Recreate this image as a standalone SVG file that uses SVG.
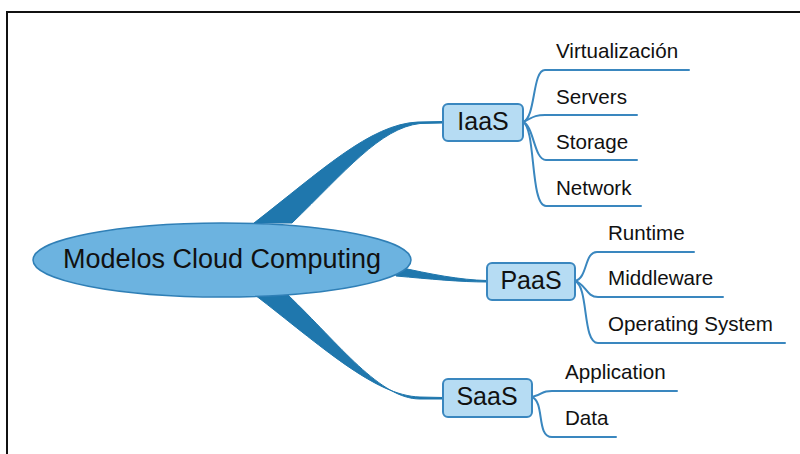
<svg xmlns="http://www.w3.org/2000/svg" width="800" height="454" viewBox="0 0 800 454">
<style>
.frame{fill:none;stroke:#111;stroke-width:2}
.branch{fill:#1f77ad;stroke:#1f77ad;stroke-width:1}
.sub{fill:none;stroke:#3a87bf;stroke-width:2;stroke-linecap:round}
.box{fill:#b6dcf3;stroke:#3a87bf;stroke-width:2}
.root{fill:#6cb3e0;stroke:#2f7fb6;stroke-width:1.5}
text{font-family:"Liberation Sans",Arial,sans-serif;fill:#111}
.t1{font-size:25px;text-anchor:middle}
.t2{font-size:20.6px}
.t0{font-size:27px;text-anchor:middle}
</style>
<rect x="0" y="0" width="800" height="454" fill="#fff"/>
<path class="frame" d="M7 454 V12 H800"/>
<g id="connectors">
<path class="branch" d="M254 223 C320 172 370 124 418 122 L443 121.5 L443 123 L420 123.5 C380 128 345 172 292 223 Z"/>
<path class="branch" d="M255 295 C320 345 375 396 420 397 L443 397.5 L443 399 L420 399 C380 399 340 345 288 295 Z"/>
<path class="branch" d="M398 267 C430 274 460 280 487 280.5 L487 282 C460 282 430 279 396 276 Z"/>
<path class="sub" d="M523 122 C536 118 532 70 545 70 L689 70"/>
<path class="sub" d="M523 122 C532 118 534 115 545 115 L637 115"/>
<path class="sub" d="M523 122 C534 126 534 160 546 160 L637 160"/>
<path class="sub" d="M523 122 C536 128 530 206 546 206 L641 206"/>
<path class="sub" d="M575 281 C588 278 584 252 597 252 L694 252"/>
<path class="sub" d="M575 281 C586 284 586 297 598 297 L723 297"/>
<path class="sub" d="M575 281 C589 287 582 343 598 343 L785 343"/>
<path class="sub" d="M532 397 C545 394 540 391 552 391 L677 391"/>
<path class="sub" d="M532 397 C545 402 536 437 552 437 L616 437"/>
</g>
<g id="root">
<ellipse class="root" cx="222" cy="260" rx="189" ry="37"/>
<text class="t0" x="222" y="268">Modelos Cloud Computing</text>
</g>
<g id="iaas">
<rect class="box" x="443" y="104" width="80" height="37" rx="5"/>
<text class="t1" x="483" y="130">IaaS</text>
</g>
<g id="paas">
<rect class="box" x="487" y="263" width="88" height="37" rx="5"/>
<text class="t1" x="531" y="289">PaaS</text>
</g>
<g id="saas">
<rect class="box" x="443" y="379" width="89" height="38" rx="5"/>
<text class="t1" x="487" y="405">SaaS</text>
</g>
<g id="virtualizacion"><text class="t2" x="556" y="58">Virtualización</text></g>
<g id="servers"><text class="t2" x="556" y="104">Servers</text></g>
<g id="storage"><text class="t2" x="556" y="149">Storage</text></g>
<g id="network"><text class="t2" x="556" y="195">Network</text></g>
<g id="runtime"><text class="t2" x="608" y="240">Runtime</text></g>
<g id="middleware"><text class="t2" x="608" y="285">Middleware</text></g>
<g id="operating-system"><text class="t2" x="608" y="331">Operating System</text></g>
<g id="application"><text class="t2" x="565" y="379">Application</text></g>
<g id="data"><text class="t2" x="565" y="425">Data</text></g>
</svg>
